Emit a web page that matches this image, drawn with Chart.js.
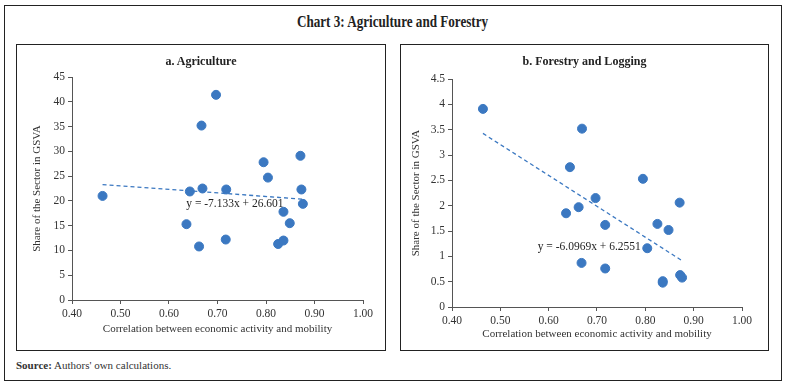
<!DOCTYPE html>
<html>
<head>
<meta charset="utf-8">
<script src="https://cdn.jsdelivr.net/npm/chart.js@4.4.1/dist/chart.umd.min.js"></script>
<style>
  body { margin: 0; background: #fff; font-family: "Liberation Serif", serif; }
  #frame { position: absolute; left: 4px; top: 5px; width: 778px; height: 376px; border: 1.5px solid #222; box-sizing: border-box; }
  #title { position: absolute; left: 0; width: 785px; top: 13px; text-align: center; font-weight: bold; font-size: 16px; color: #222; transform: scaleX(0.82); }
  .panel { position: absolute; top: 44px; height: 307px; border: 1.5px solid #222; box-sizing: border-box; }
  .panel canvas { position: absolute; left: 0; top: 0; }
  .ptitle { position: absolute; top: 9px; width: 100%; text-align: center; font-weight: bold; font-size: 12px; color: #222; }
  #source { position: absolute; left: 16px; top: 359px; font-size: 11px; color: #333; }
</style>
</head>
<body>
<div id="frame"></div>
<div id="title">Chart 3: Agriculture and Forestry</div>
<div class="panel" id="p1" style="left:16px;width:370px;">
  <canvas id="c1" width="367" height="304"></canvas>
  <div class="ptitle">a. Agriculture</div>
</div>
<div class="panel" id="p2" style="left:400px;width:369px;">
  <canvas id="c2" width="366" height="304"></canvas>
  <div class="ptitle">b. Forestry and Logging</div>
</div>
<div id="source"><b>Source:</b> Authors' own calculations.</div>
<script>
// correlation between economic activity and mobility (x) and sector share in GSVA (y)
var agriX = [0.463, 0.643, 0.669, 0.667, 0.697, 0.718, 0.795, 0.804, 0.871, 0.873, 0.876, 0.836, 0.636, 0.662, 0.717, 0.825, 0.836, 0.849];
var agriY = [21.0, 21.9, 22.5, 35.2, 41.4, 22.3, 27.8, 24.7, 29.1, 22.3, 19.4, 17.8, 15.3, 10.8, 12.2, 11.3, 12.0, 15.5];
var forX = [0.464, 0.669, 0.644, 0.795, 0.697, 0.871, 0.636, 0.662, 0.717, 0.825, 0.848, 0.804, 0.668, 0.717, 0.836, 0.836, 0.872, 0.876];
var forY = [3.91, 3.52, 2.76, 2.53, 2.15, 2.06, 1.85, 1.97, 1.62, 1.64, 1.52, 1.16, 0.87, 0.76, 0.51, 0.48, 0.63, 0.58];
var agriFit = { slope: -7.133, icpt: 26.601, label: "y = -7.133x + 26.601", at: [0.736, 19.4] };
var forFit = { slope: -6.0969, icpt: 6.2551, label: "y = -6.0969x + 6.2551", at: [0.684, 1.18] };
var xTicks = [0.4, 0.5, 0.6, 0.7, 0.8, 0.9, 1.0];

var blue = "#3b78c1";
var axisCol = "#555";
var font = "Liberation Serif";

function pts(xs, ys) {
  return xs.map(function (x, i) { return { x: x, y: ys[i] }; });
}
function fitLine(xs, f) {
  var lo = Math.min.apply(null, xs), hi = Math.max.apply(null, xs);
  return [{ x: lo, y: f.slope * lo + f.icpt }, { x: hi, y: f.slope * hi + f.icpt }];
}

var eqLabel = {
  id: "eqLabel",
  afterDatasetsDraw: function (chart, args, opts) {
    var c = chart.ctx;
    c.save();
    c.font = "11.5px " + font;
    c.fillStyle = "#222";
    c.textAlign = "center";
    c.textBaseline = "middle";
    c.fillText(opts.text, chart.scales.x.getPixelForValue(opts.at[0]), chart.scales.y.getPixelForValue(opts.at[1]));
    c.restore();
  }
};

function make(id, xs, ys, fit, yMax, yStep, pad, yW, xH) {
  new Chart(document.getElementById(id), {
    type: "scatter",
    data: {
      datasets: [
        { data: pts(xs, ys), backgroundColor: blue, borderColor: blue, pointRadius: 4.5, pointHoverRadius: 4.5 },
        { type: "line", data: fitLine(xs, fit), borderColor: blue, borderWidth: 1.3, borderDash: [4, 3], pointRadius: 0, fill: false }
      ]
    },
    plugins: [eqLabel],
    options: {
      responsive: false,
      animation: false,
      layout: { padding: pad },
      plugins: { legend: { display: false }, tooltip: { enabled: false }, eqLabel: { text: fit.label, at: fit.at } },
      scales: {
        x: {
          type: "linear", min: 0.4, max: 1.0,
          afterBuildTicks: function (s) { s.ticks = xTicks.map(function (v) { return { value: v }; }); },
          afterFit: function (s) { s.height = xH; },
          grid: { display: true, drawOnChartArea: false, drawTicks: true, tickLength: 4, color: axisCol },
          border: { display: true, color: axisCol, width: 1 },
          ticks: { color: "#333", font: { family: font, size: 11.5 }, padding: 3, maxRotation: 0,
            callback: function (v) { return Number(v).toFixed(2); } },
          title: { display: true, text: "Correlation between economic activity and mobility", color: "#333",
            font: { family: font, size: 11 }, padding: { top: 2, bottom: 0 } }
        },
        y: {
          min: 0, max: yMax,
          afterFit: function (s) { s.width = yW; },
          grid: { display: true, drawOnChartArea: false, drawTicks: true, tickLength: 4, color: axisCol },
          border: { display: true, color: axisCol, width: 1 },
          ticks: { stepSize: yStep, color: "#333", font: { family: font, size: 11.5 }, padding: 3,
            callback: function (v) { return String(Math.round(v * 10) / 10); } },
          title: { display: true, text: "Share of the Sector in GSVA", color: "#333",
            font: { family: font, size: 11 }, padding: { top: 0, bottom: 2 } }
        }
      }
    }
  });
}

make("c1", agriX, agriY, agriFit, 45, 5, { left: 14, right: 21, top: 32, bottom: 13 }, 41, 36);
make("c2", forX, forY, forFit, 4.5, 0.5, { left: 9, right: 25, top: 34, bottom: 8 }, 42, 34);
</script>
</body>
</html>
